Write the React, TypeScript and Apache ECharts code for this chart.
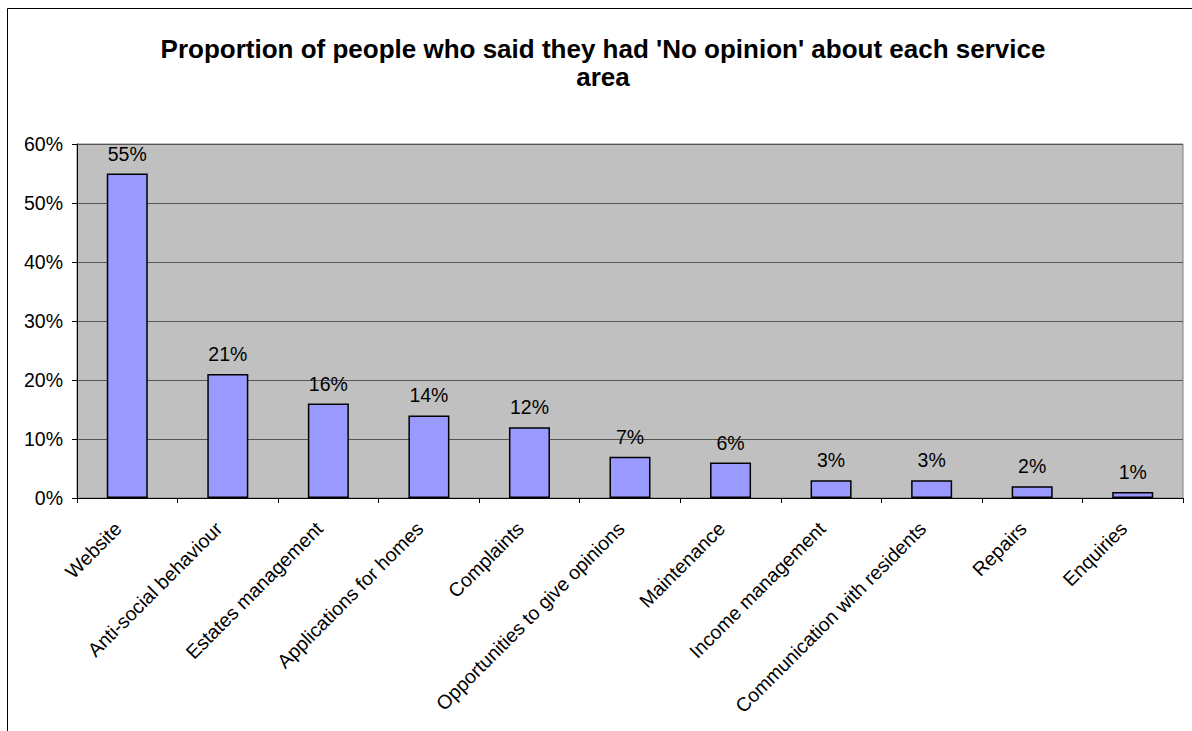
import React, { useEffect, useRef } from "react";
import * as echarts from "echarts";

const categories = [
  "Website",
  "Anti-social behaviour",
  "Estates management",
  "Applications for homes",
  "Complaints",
  "Opportunities to give opinions",
  "Maintenance",
  "Income management",
  "Communication with residents",
  "Repairs",
  "Enquiries",
];
const values = [0.55, 0.21, 0.16, 0.14, 0.12, 0.07, 0.06, 0.03, 0.03, 0.02, 0.01];
const titleLines = [
  "Proportion of people who said they had 'No opinion' about each service",
  "area",
];

export default function App() {
  const ref = useRef<HTMLDivElement>(null);
  useEffect(() => {
    if (!ref.current) return;
    const chart = echarts.init(ref.current, null, { renderer: "svg" });
    const font = "Arial, 'Liberation Sans', Helvetica, sans-serif";
    chart.setOption({
      animation: false,
      backgroundColor: "#ffffff",
      textStyle: { fontFamily: font },
      title: {
        text: titleLines.join("\n"),
        left: 598,
        top: 30,
        textAlign: "center",
        textStyle: {
          fontFamily: font,
          fontSize: 26,
          fontWeight: "bold",
          color: "#000",
          lineHeight: 28,
        },
      },
      graphic: [
        {
          type: "rect",
          shape: { x: 7.5, y: 8.5, width: 1300, height: 900 },
          style: { fill: "none", stroke: "#000", lineWidth: 1 },
          silent: true,
          z: -1,
        },
      ],
      grid: {
        left: 77,
        top: 144,
        right: 9,
        bottom: 233,
        show: true,
        backgroundColor: "#c0c0c0",
        borderColor: "#808080",
        borderWidth: 1,
        containLabel: false,
      },
      xAxis: {
        type: "category",
        data: categories,
        axisLine: { show: true, lineStyle: { color: "#000", width: 1 } },
        axisTick: { show: true, interval: 0, alignWithLabel: false, length: 5, lineStyle: { color: "#000" } },
        axisLabel: {
          interval: 0,
          rotate: 45,
          fontSize: 19.5,
          color: "#000",
          fontFamily: font,
          margin: 18,
          padding: [0, 13, 0, 0],
        },
        splitLine: { show: false },
      },
      yAxis: {
        type: "value",
        min: 0,
        max: 0.6,
        interval: 0.1,
        axisLine: { show: true, lineStyle: { color: "#000", width: 1 } },
        axisTick: { show: true, length: 5, lineStyle: { color: "#000" } },
        axisLabel: {
          fontSize: 19.5,
          color: "#000",
          fontFamily: font,
          margin: 14,
          formatter: (v: number) => `${Math.round(v * 100)}%`,
        },
        splitLine: { show: true, lineStyle: { color: "#555555", width: 1 } },
      },
      series: [
        {
          type: "bar",
          data: values,
          barWidth: "40.8%",
          itemStyle: { color: "#9999ff", borderColor: "#000", borderWidth: 1.5 },
          label: {
            show: true,
            position: "top",
            distance: 10,
            fontSize: 19.5,
            color: "#000",
            fontFamily: font,
            formatter: (p: any) => `${Math.round(p.value * 100)}%`,
          },
        },
      ],
    });
    return () => chart.dispose();
  }, []);
  return (
    <div
      ref={ref}
      style={{ position: "fixed", left: 0, top: 0, width: 1192, height: 731 }}
    />
  );
}
